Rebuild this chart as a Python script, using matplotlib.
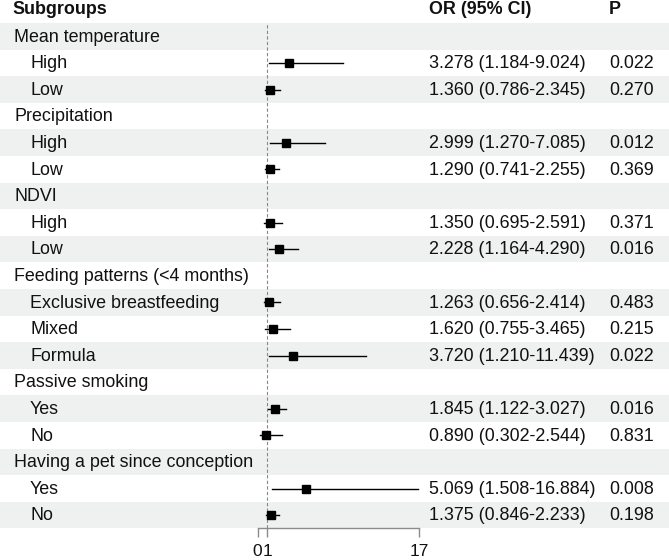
import matplotlib
matplotlib.use("Agg")
import matplotlib.pyplot as plt
import numpy as np

plt.rcParams['font.family'] = ['Liberation Sans', 'DejaVu Sans']

# rows of the table (group headers have no estimate)
labels = ["Mean temperature", "High", "Low",
          "Precipitation", "High", "Low",
          "NDVI", "High", "Low",
          "Feeding patterns (<4 months)", "Exclusive breastfeeding", "Mixed", "Formula",
          "Passive smoking", "Yes", "No",
          "Having a pet since conception", "Yes", "No"]
is_group = [True, False, False,
            True, False, False,
            True, False, False,
            True, False, False, False,
            True, False, False,
            True, False, False]
or_est = [None, 3.278, 1.360,
          None, 2.999, 1.290,
          None, 1.350, 2.228,
          None, 1.263, 1.620, 3.720,
          None, 1.845, 0.890,
          None, 5.069, 1.375]
ci_low = [None, 1.184, 0.786,
          None, 1.270, 0.741,
          None, 0.695, 1.164,
          None, 0.656, 0.755, 1.210,
          None, 1.122, 0.302,
          None, 1.508, 0.846]
ci_high = [None, 9.024, 2.345,
           None, 7.085, 2.255,
           None, 2.591, 4.290,
           None, 2.414, 3.465, 11.439,
           None, 3.027, 2.544,
           None, 16.884, 2.233]
p_vals = [None, "0.022", "0.270",
          None, "0.012", "0.369",
          None, "0.371", "0.016",
          None, "0.483", "0.215", "0.022",
          None, "0.016", "0.831",
          None, "0.008", "0.198"]
x_ticks = [0, 1, 17]

W, H = 669, 560
pitch = 26.6
row0 = 9.7  # pixel centre of the header row
n = len(labels)

fig = plt.figure(figsize=(W / 100, H / 100), dpi=100)

# background axes in pixel-like row coordinates
bg = fig.add_axes([0, 0, 1, 1])
bg.set_xlim(0, W)
bg.set_ylim((H - row0) / pitch, -row0 / pitch)
bg.axis("off")

fs = 12.9
txt_col = "#111111"
bg.text(12, 0, "Subgroups", fontsize=fs, fontweight="bold", va="center", color=txt_col)
bg.text(429, 0, "OR (95% CI)", fontsize=fs, fontweight="bold", va="center", color=txt_col)
bg.text(609, 0, "P", fontsize=fs, fontweight="bold", va="center", color=txt_col)

for i, lab in enumerate(labels):
    r = i + 1
    if r % 2 == 1:
        bg.axhspan(r - 0.5, r + 0.5, color="#eff0f0", lw=0, zorder=0)
    bg.text(14 if is_group[i] else 30, r + 0.03, lab, fontsize=fs, va="center", color=txt_col)
    if or_est[i] is not None:
        bg.text(429, r + 0.03, f"{or_est[i]:.3f} ({ci_low[i]:.3f}-{ci_high[i]:.3f})",
                fontsize=fs, va="center", color=txt_col)
        bg.text(609, r + 0.03, p_vals[i], fontsize=fs, va="center", color=txt_col)

# forest axes
x0, x1 = 257.5, 419
y_top = row0 + pitch * 0.5
y_bot = row0 + pitch * (n + 0.5)
ax = fig.add_axes([x0 / W, (H - y_bot) / H, (x1 - x0) / W, (y_bot - y_top) / H])
ax.set_xlim(0, 17)
ax.set_ylim(n + 0.5, 0.5)
ax.patch.set_alpha(0)
for s in ["top", "right", "left"]:
    ax.spines[s].set_visible(False)
ax.spines["bottom"].set_color("#8c8c8c")
ax.spines["bottom"].set_linewidth(1.0)
ax.set_yticks([])
ax.set_xticks(x_ticks)
ax.tick_params(axis="x", length=6.5, width=1.0, color="#8c8c8c", labelsize=12.5,
               labelcolor=txt_col, pad=5)

ax.axvline(1, ls=(0, (3, 2)), color="#888888", lw=0.8, zorder=1)

rows = np.arange(1, n + 1)
for r, est, lo, hi in zip(rows, or_est, ci_low, ci_high):
    if est is None:
        continue
    ax.plot([lo, hi], [r, r], color="black", lw=1.0, zorder=2, clip_on=False)
    ax.plot(est, r, marker="s", ms=5.5, color="black", zorder=3, clip_on=False)

fig.savefig("out.png", dpi=100)
